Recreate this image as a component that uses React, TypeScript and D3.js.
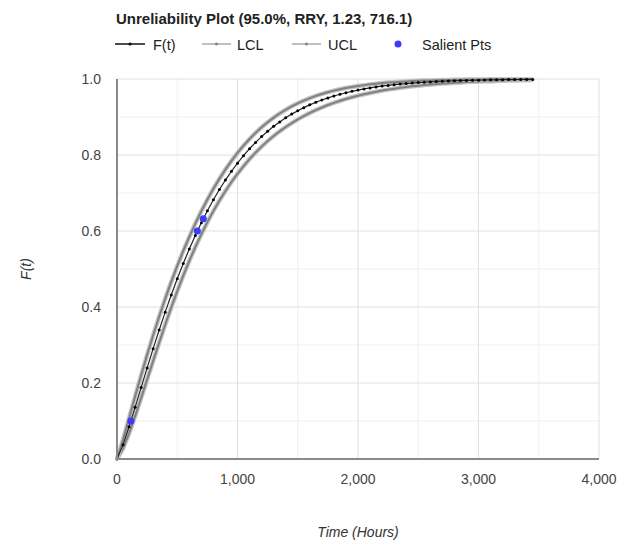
import React from 'react';
import * as d3 from 'd3';

const width = 630;
const height = 545;
const margin = { top: 79, right: 31, bottom: 86, left: 117 };

const title = 'Unreliability Plot (95.0%, RRY, 1.23, 716.1)';

// time axis of the curves (hours)
const hours = [
  0, 50, 100, 150, 200, 250, 300, 350, 400, 450, 500, 550, 600, 650, 700, 750,
  800, 850, 900, 950, 1000, 1050, 1100, 1150, 1200, 1250, 1300, 1350, 1400,
  1450, 1500, 1550, 1600, 1650, 1700, 1750, 1800, 1850, 1900, 1950, 2000,
  2050, 2100, 2150, 2200, 2250, 2300, 2350, 2400, 2450, 2500, 2550, 2600,
  2650, 2700, 2750, 2800, 2850, 2900, 2950, 3000, 3050, 3100, 3150, 3200,
  3250, 3300, 3350, 3400, 3450,
];

const fValues = [
  0, 0.0372, 0.085, 0.136, 0.188, 0.2397, 0.2904, 0.3394, 0.3865, 0.4315,
  0.4742, 0.5146, 0.5527, 0.5884, 0.6219, 0.6531, 0.6821, 0.7091, 0.7341,
  0.7572, 0.7786, 0.7983, 0.8165, 0.8332, 0.8485, 0.8625, 0.8754, 0.8871,
  0.8978, 0.9076, 0.9165, 0.9246, 0.932, 0.9387, 0.9448, 0.9503, 0.9553,
  0.9598, 0.9639, 0.9676, 0.9709, 0.9739, 0.9766, 0.9791, 0.9813, 0.9832,
  0.985, 0.9866, 0.988, 0.9893, 0.9905, 0.9915, 0.9924, 0.9933, 0.994,
  0.9947, 0.9953, 0.9958, 0.9963, 0.9967, 0.997, 0.9974, 0.9977, 0.9979,
  0.9982, 0.9984, 0.9986, 0.9987, 0.9989, 0.999,
];

const lclValues = [
  0, 0.0273, 0.0671, 0.1123, 0.1601, 0.2091, 0.2581, 0.3063, 0.3532, 0.3984,
  0.4415, 0.4825, 0.5212, 0.5575, 0.5916, 0.6233, 0.6527, 0.6801, 0.7054,
  0.7289, 0.7506, 0.7706, 0.7892, 0.8063, 0.8221, 0.8366, 0.85, 0.8623,
  0.8736, 0.8841, 0.8937, 0.9026, 0.9107, 0.9182, 0.9251, 0.9315, 0.9373,
  0.9426, 0.9475, 0.952, 0.9561, 0.9599, 0.9633, 0.9666, 0.9695, 0.9721,
  0.9745, 0.9768, 0.9788, 0.9807, 0.9824, 0.984, 0.9854, 0.9868, 0.9879,
  0.9891, 0.9901, 0.9909, 0.9918, 0.9925, 0.9932, 0.9939, 0.9944, 0.9949,
  0.9954, 0.9958, 0.9962, 0.9965, 0.9969, 0.9972,
];

const uclValues = [
  0, 0.0507, 0.1074, 0.1643, 0.2201, 0.274, 0.3258, 0.375, 0.4218, 0.4662,
  0.5081, 0.5476, 0.5847, 0.6196, 0.6523, 0.6828, 0.7112, 0.7376, 0.762,
  0.7846, 0.8055, 0.8246, 0.8422, 0.8583, 0.8729, 0.8862, 0.8984, 0.9093,
  0.9191, 0.9281, 0.9361, 0.9433, 0.9497, 0.9555, 0.9607, 0.9653, 0.9694,
  0.973, 0.9763, 0.9792, 0.9817, 0.9839, 0.9859, 0.9877, 0.9892, 0.9905,
  0.9917, 0.9928, 0.9936, 0.9945, 0.9952, 0.9958, 0.9963, 0.9968, 0.9972,
  0.9976, 0.9979, 0.9981, 0.9984, 0.9986, 0.9987, 0.9989, 0.9991, 0.9991,
  0.9993, 0.9994, 0.9994, 0.9994, 0.9995, 0.9996,
];

const salientHours = [115, 667, 716.1];
const salientF = [0.1, 0.6, 0.632];

const xTicks = [0, 1000, 2000, 3000, 4000];
const xMinor = [500, 1500, 2500, 3500];
const yTicks = [0, 0.2, 0.4, 0.6, 0.8, 1.0];
const yMinor = [0.1, 0.3, 0.5, 0.7, 0.9];

const font = 'Arial, "Liberation Sans", sans-serif';
const blue = '#3c3cff';

const App = () => {
  const x = d3.scaleLinear().domain([0, 4000]).range([margin.left, width - margin.right]);
  const y = d3.scaleLinear().domain([0, 1]).range([height - margin.bottom, margin.top]);

  const line = (vals: number[]) =>
    d3.line<number>()
      .x((_, i) => x(hours[i]))
      .y(d => y(d))(vals) || '';

  const fmt = d3.format(',');

  return (
    <svg width={width} height={height} style={{ position: 'absolute', left: 0, top: 0 }} fontFamily={font}>
      <rect width={width} height={height} fill="white" />

      {/* minor grid */}
      {xMinor.map(t => (
        <line key={'xm' + t} x1={x(t)} x2={x(t)} y1={y(0)} y2={y(1)} stroke="#efefef" />
      ))}
      {yMinor.map(t => (
        <line key={'ym' + t} x1={x(0)} x2={x(4000)} y1={y(t)} y2={y(t)} stroke="#efefef" />
      ))}
      {/* major grid */}
      {xTicks.map(t => (
        <line key={'x' + t} x1={x(t)} x2={x(t)} y1={y(0)} y2={y(1)} stroke="#e0e0e0" />
      ))}
      {yTicks.map(t => (
        <line key={'y' + t} x1={x(0)} x2={x(4000)} y1={y(t)} y2={y(t)} stroke="#e0e0e0" />
      ))}

      {/* confidence bounds */}
      {[lclValues, uclValues].map((vals, i) => (
        <g key={'cl' + i} fill="none">
          <path d={line(vals)} stroke="#c4c4c4" strokeWidth={4.5} />
          <path d={line(vals)} stroke="#808080" strokeWidth={2} />
        </g>
      ))}

      {/* F(t) */}
      <path d={line(fValues)} fill="none" stroke="#222" strokeWidth={1.2} />
      {fValues.map((v, i) => (
        <circle key={'f' + i} cx={x(hours[i])} cy={y(v)} r={1.5} fill="#000" />
      ))}

      {/* salient points */}
      {salientF.map((v, i) => (
        <circle key={'s' + i} cx={x(salientHours[i])} cy={y(v)} r={3.5} fill={blue} />
      ))}

      {/* axes */}
      <line x1={x(0)} x2={x(0)} y1={y(0) + 1} y2={y(1)} stroke="#8a8a8a" strokeWidth={2} />
      <line x1={x(0) - 1} x2={x(4000)} y1={y(0)} y2={y(0)} stroke="#8a8a8a" strokeWidth={2} />

      {yTicks.map(t => (
        <text key={'yl' + t} x={x(0) - 16} y={y(t)} dy="0.35em" textAnchor="end" fontSize={14} fill="#444">
          {t.toFixed(1)}
        </text>
      ))}
      {xTicks.map(t => (
        <text key={'xl' + t} x={x(t)} y={y(0) + 25} textAnchor="middle" fontSize={14} fill="#444">
          {fmt(t)}
        </text>
      ))}

      <text x={(x(0) + x(4000)) / 2} y={537} textAnchor="middle" fontSize={14} fontStyle="italic" fill="#333">
        Time (Hours)
      </text>
      <text transform={`translate(31,${(y(0) + y(1)) / 2}) rotate(-90)`} textAnchor="middle" fontSize={14} fontStyle="italic" fill="#333">
        F(t)
      </text>

      {/* title + legend */}
      <text x={116} y={24} fontSize={15} fontWeight="bold" fill="#222">{title}</text>
      <g fontSize={14.5} fill="#222">
        <line x1={115} x2={145} y1={44} y2={44} stroke="#111" strokeWidth={1.5} />
        <circle cx={130} cy={44} r={1.6} fill="#111" />
        <text x={153} y={49.5}>F(t)</text>
        <line x1={202} x2={231} y1={44} y2={44} stroke="#aaa" strokeWidth={1.5} />
        <circle cx={216.5} cy={44} r={1.6} fill="#888" />
        <text x={237} y={49.5}>LCL</text>
        <line x1={292} x2={321} y1={44} y2={44} stroke="#aaa" strokeWidth={1.5} />
        <circle cx={306.5} cy={44} r={1.6} fill="#888" />
        <text x={328} y={49.5}>UCL</text>
        <circle cx={398} cy={44} r={3.5} fill={blue} />
        <text x={422} y={49.5}>Salient Pts</text>
      </g>
    </svg>
  );
};

export default App;
